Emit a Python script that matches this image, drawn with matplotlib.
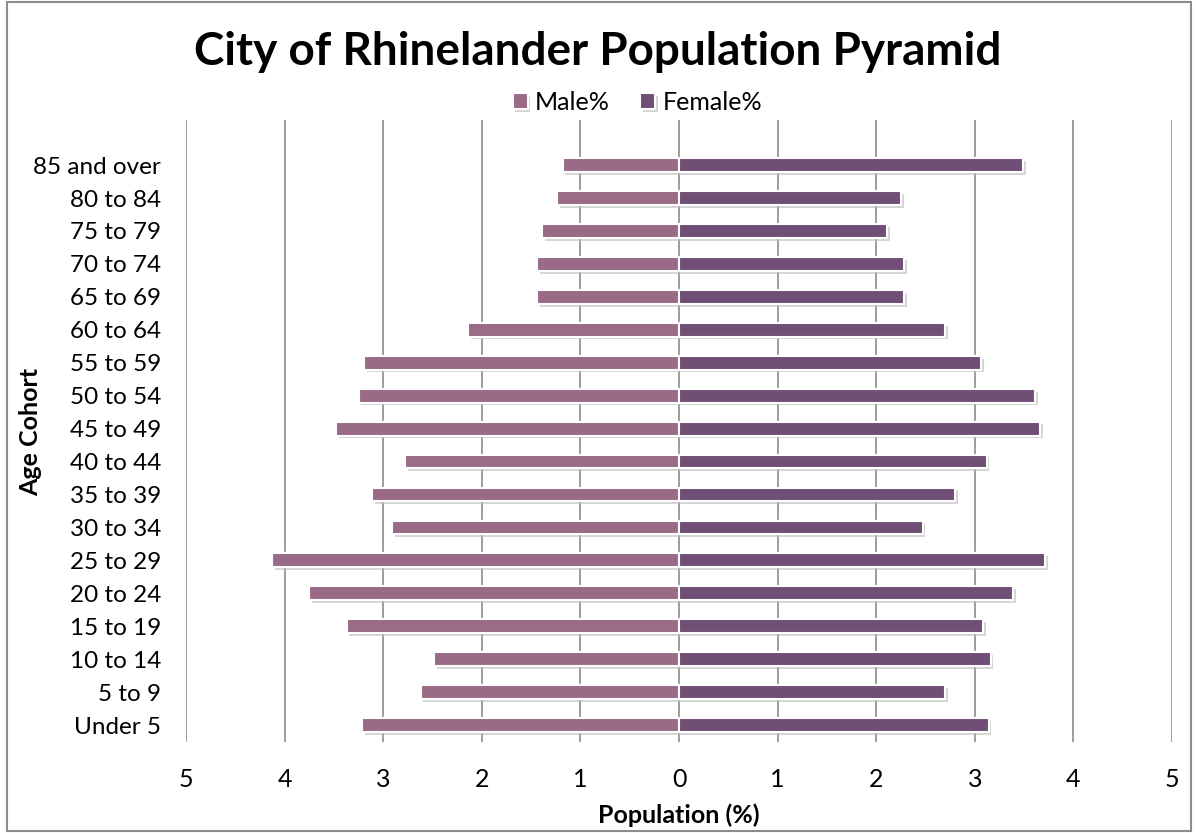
import numpy as np
import matplotlib
matplotlib.use('Agg')
from matplotlib import pyplot as plt
import matplotlib.patheffects as pe

ages = ['Under 5', '5 to 9', '10 to 14', '15 to 19', '20 to 24', '25 to 29',
        '30 to 34', '35 to 39', '40 to 44', '45 to 49', '50 to 54', '55 to 59',
        '60 to 64', '65 to 69', '70 to 74', '75 to 79', '80 to 84', '85 and over']
male = [3.21, 2.62, 2.48, 3.37, 3.75, 4.13, 2.91, 3.11, 2.78, 3.48, 3.25, 3.19,
        2.14, 1.44, 1.44, 1.39, 1.24, 1.18]
female = [3.14, 2.70, 3.16, 3.08, 3.39, 3.71, 2.47, 2.80, 3.12, 3.66, 3.61, 3.06,
          2.70, 2.28, 2.28, 2.11, 2.25, 3.49]
xticks = [-5, -4, -3, -2, -1, 0, 1, 2, 3, 4, 5]

male_col = '#9a6a86'
female_col = '#6f4f75'

plt.rcParams['font.family'] = ['Lato', 'DejaVu Sans']

fig = plt.figure(figsize=(11.96, 8.33), dpi=100)
ax = fig.add_axes([0.1555, 0.1098, 0.8245, 0.7462])

y = np.arange(len(ages))
shadow = [pe.SimplePatchShadow(offset=(2, -2), shadow_rgbFace='#bbbbbb', alpha=0.6), pe.Normal()]
bm = ax.barh(y, -np.array(male), height=0.42, color=male_col, edgecolor='white',
             linewidth=1.5, label='Male%', zorder=3)
bf = ax.barh(y, female, height=0.42, color=female_col, edgecolor='white',
             linewidth=1.5, label='Female%', zorder=3)
for b in list(bm) + list(bf):
    b.set_path_effects(shadow)

ax.set_xlim(-5, 5)
ax.set_ylim(-0.5, 18.37)
ax.set_xticks(xticks)
ax.set_xticklabels([str(abs(t)) for t in xticks], fontsize=18)
ax.set_yticks(y)
ax.set_yticklabels(ages, fontsize=17.5)
ax.tick_params(axis='both', length=0)
ax.tick_params(axis='x', pad=19)
ax.tick_params(axis='y', pad=18)
ax.xaxis.grid(True, color='#8c8c8c', linewidth=1.2, zorder=0)
for s in ax.spines.values():
    s.set_visible(False)

ax.set_xlabel('Population (%)', fontsize=18, fontweight='bold', labelpad=9)
fig.text(0.026, 0.481, 'Age Cohort', rotation=90, fontsize=18, fontweight='bold',
         ha='center', va='center')
fig.text(0.5, 0.937, 'City of Rhinelander Population Pyramid', fontsize=33,
         fontweight='bold', ha='center', va='center')
ax.legend(handles=[bm, bf], loc='center', bbox_to_anchor=(0.533, 0.877),
          bbox_transform=fig.transFigure, ncol=2, frameon=False, fontsize=18,
          handlelength=0.6, handleheight=0.6, handletextpad=0.3, columnspacing=1.2,
          borderpad=0)

fig.patches.append(plt.Rectangle((0.006, 0.003), 0.99, 0.994, transform=fig.transFigure,
                                 fill=False, edgecolor='#8c8c8c', linewidth=1.5))

fig.savefig('out.png', dpi=100)
